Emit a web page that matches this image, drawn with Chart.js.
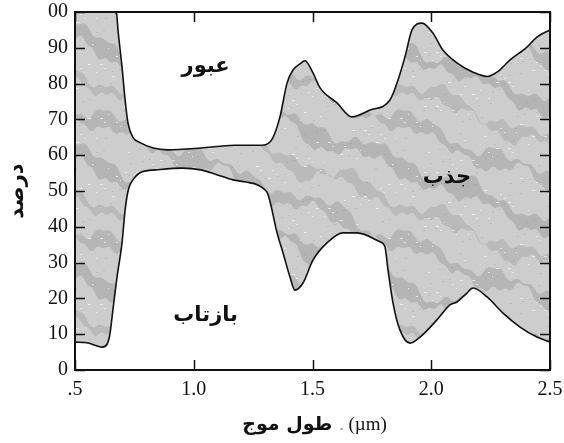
<!DOCTYPE html>
<html>
<head>
<meta charset="utf-8">
<script src="https://cdn.jsdelivr.net/npm/chart.js@4/dist/chart.umd.min.js"></script>
<style>
  html, body { margin: 0; padding: 0; background: #ffffff; }
  #wrap { width: 564px; height: 443px; }
</style>
</head>
<body>
<div id="wrap"><canvas id="chart" width="564" height="443"></canvas></div>
<script>
// Wavelength (µm) and percentage along the reflection curve (lower edge of absorption band)
const reflectWavelength = [0.50, 0.55, 0.59, 0.614, 0.635, 0.647, 0.66, 0.677, 0.698, 0.711, 0.725, 0.744, 0.78, 0.84, 0.95, 1.03, 1.10, 1.165, 1.22, 1.27, 1.30, 1.31, 1.325, 1.335, 1.35, 1.376, 1.405, 1.426, 1.46, 1.502, 1.561, 1.628, 1.687, 1.784, 1.805, 1.818, 1.839, 1.868, 1.911, 1.953, 2.024, 2.079, 2.108, 2.15, 2.176, 2.235, 2.302, 2.374, 2.445, 2.50];
const reflectPercent    = [7.8, 7.6, 6.8, 6.4, 7.2, 10, 17, 26, 35.5, 44.7, 50.5, 53.1, 55.3, 55.9, 56.4, 55.9, 54.5, 53.1, 52.5, 51.7, 50.3, 49.5, 46, 43, 38.5, 32.7, 26, 22.3, 24.3, 30.7, 35.5, 38.3, 38.3, 35.8, 34.4, 27.9, 18.7, 11.2, 7.5, 9.2, 14, 18.2, 19, 21.5, 22.9, 20.4, 15.9, 12, 9.2, 7.8];

// Wavelength (µm) and percentage along the transmission boundary (upper edge of absorption band)
const transWavelength = [0.50, 0.60, 0.66, 0.675, 0.681, 0.698, 0.711, 0.723, 0.744, 0.774, 0.83, 0.89, 1.03, 1.17, 1.29, 1.33, 1.363, 1.393, 1.418, 1.447, 1.468, 1.502, 1.532, 1.603, 1.666, 1.742, 1.826, 1.86, 1.889, 1.919, 1.961, 2.007, 2.049, 2.108, 2.176, 2.235, 2.277, 2.332, 2.403, 2.445, 2.50];
const transPercent    = [100, 100, 100, 99.5, 95, 84.6, 75.4, 69, 65, 63.5, 62, 61.5, 62, 62.8, 62.8, 64.5, 70.7, 80.2, 83.8, 85.5, 86.4, 83, 78.8, 74.6, 70.7, 72.6, 75.4, 81, 87.4, 95, 96.9, 94.1, 89.4, 85.8, 83.2, 82, 83.2, 86.6, 90.2, 93, 95];

// Tick labels
const xTickLabels = ['.5', '1.0', '1.5', '2.0', '2.5'];
const yTickLabels = ['0', '10', '20', '30', '40', '50', '60', '70', '80', '90', '00'];

// Region names and where they sit (µm, %)
const regionNames = ['عبور', 'بازتاب', 'جذب'];
const regionX     = [1.05, 1.05, 2.066];
const regionY     = [84.8, 15.2, 53.8];

const yTitle = 'درصد';
const xTitleWord = 'طول موج';
const xTitleUnit = '(µm)';

const ARABIC_FONT = '"DejaVu Sans", "Noto Sans", sans-serif';
const SERIF_FONT = '"Liberation Serif", "DejaVu Serif", serif';

function toPoints(xs, ys) {
  return xs.map((x, i) => ({ x: x, y: ys[i] }));
}

// Seamless mottled grey tile for the absorption band: broad, patchy diagonal streaks
function makeTexture() {
  const W = 300, H = 120;
  const c = document.createElement('canvas');
  c.width = W; c.height = H;
  const g = c.getContext('2d');
  g.fillStyle = '#cdcdcd';
  g.fillRect(0, 0, W, H);
  const TAU = Math.PI * 2;
  const bands = [
    { y0: 6,  alpha: 0.26, w: 14 },
    { y0: 44, alpha: 0.20, w: 10 },
    { y0: 82, alpha: 0.24, w: 12 }
  ];
  bands.forEach((b, k) => {
    const top = [], bot = [];
    for (let x = 0; x <= W; x += 3) {
      const yc = b.y0 + 0.4 * x
        + 6 * Math.sin(TAU * x / 100 + k * 1.7)
        + 3 * Math.sin(TAU * x / 30 + k * 0.9);
      const t = Math.max(1, b.w
        + 6 * Math.sin(TAU * x / 75 + k * 2.3)
        + 4 * Math.sin(TAU * x / 50 + k * 1.1));
      top.push([x, yc - t / 2 + 2 * Math.sin(TAU * x / 15 + k)]);
      bot.push([x, yc + t / 2 + 2 * Math.sin(TAU * x / 12 + k * 2)]);
    }
    g.fillStyle = 'rgba(110,110,110,' + b.alpha + ')';
    for (const off of [-H, 0, H]) {
      g.beginPath();
      top.forEach((p, i) => (i ? g.lineTo(p[0], p[1] + off) : g.moveTo(p[0], p[1] + off)));
      for (let i = bot.length - 1; i >= 0; i--) g.lineTo(bot[i][0], bot[i][1] + off);
      g.closePath();
      g.fill();
    }
  });
  // light speckles
  g.fillStyle = 'rgba(248,248,248,0.7)';
  for (let i = 0; i < 140; i++) {
    const px = (i * 47 + (i % 4) * 9) % W;
    const py = (i * 31 + (i % 6) * 7) % H;
    g.fillRect(px, py, (i % 3) + 1, 1);
  }
  // faint darker grain
  g.fillStyle = 'rgba(110,110,110,0.18)';
  for (let i = 0; i < 120; i++) {
    const px = (i * 71 + 13) % W;
    const py = (i * 23 + (i % 5) * 11) % H;
    g.fillRect(px, py, 2, 1);
  }
  return g.createPattern(c, 'repeat');
}

// Frame with inward tick marks on all four sides
const framePlugin = {
  id: 'frameTicks',
  afterDatasetsDraw(chart) {
    const { ctx, chartArea: a, scales } = chart;
    const len = 10;
    ctx.save();
    ctx.strokeStyle = '#111';
    ctx.lineWidth = 1.5;
    ctx.beginPath();
    scales.x.ticks.forEach(t => {
      const px = Math.round(scales.x.getPixelForValue(t.value)) + 0.5;
      ctx.moveTo(px, a.bottom); ctx.lineTo(px, a.bottom - len);
      ctx.moveTo(px, a.top); ctx.lineTo(px, a.top + len);
    });
    scales.y.ticks.forEach(t => {
      const py = Math.round(scales.y.getPixelForValue(t.value)) + 0.5;
      ctx.moveTo(a.left, py); ctx.lineTo(a.left + len, py);
      ctx.moveTo(a.right, py); ctx.lineTo(a.right - len, py);
    });
    ctx.stroke();
    ctx.lineWidth = 2;
    ctx.strokeRect(a.left, a.top, a.right - a.left, a.bottom - a.top);
    ctx.restore();
  }
};

// Region names placed in data coordinates
const regionPlugin = {
  id: 'regionNames',
  afterDatasetsDraw(chart) {
    const { ctx, scales } = chart;
    ctx.save();
    ctx.fillStyle = '#111';
    ctx.font = 'bold 21px ' + ARABIC_FONT;
    ctx.textAlign = 'center';
    ctx.textBaseline = 'middle';
    ctx.direction = 'rtl';
    regionNames.forEach((name, i) => {
      ctx.fillText(name, scales.x.getPixelForValue(regionX[i]), scales.y.getPixelForValue(regionY[i]));
    });
    ctx.restore();
  }
};

// X-axis title: Persian word in bold sans plus the unit in serif
const xTitlePlugin = {
  id: 'xTitle',
  afterDraw(chart) {
    const { ctx, chartArea: a } = chart;
    const cx = (a.left + a.right) / 2;
    const y = a.bottom + 55;
    ctx.save();
    ctx.fillStyle = '#111';
    ctx.textBaseline = 'middle';
    ctx.font = 'bold 19px ' + ARABIC_FONT;
    ctx.textAlign = 'right';
    ctx.fillText(xTitleWord, cx + 20, y);
    ctx.fillStyle = '#999';
    ctx.fillRect(cx + 28, y + 3, 2, 2);
    ctx.fillStyle = '#111';
    ctx.font = '19px ' + SERIF_FONT;
    ctx.textAlign = 'left';
    ctx.fillText(xTitleUnit, cx + 36, y);
    ctx.restore();
  }
};

const ctx = document.getElementById('chart').getContext('2d');
new Chart(ctx, {
  type: 'line',
  data: {
    datasets: [
      {
        label: 'reflection',
        data: toPoints(reflectWavelength, reflectPercent),
        borderColor: '#111',
        borderWidth: 1.6,
        pointRadius: 0,
        cubicInterpolationMode: 'monotone',
        fill: false
      },
      {
        label: 'transmission',
        data: toPoints(transWavelength, transPercent),
        borderColor: '#111',
        borderWidth: 1.6,
        pointRadius: 0,
        cubicInterpolationMode: 'monotone',
        backgroundColor: makeTexture(),
        fill: '-1'
      }
    ]
  },
  options: {
    responsive: false,
    animation: false,
    layout: { padding: { top: 12, right: 14, left: 0, bottom: 0 } },
    plugins: { legend: { display: false }, tooltip: { enabled: false } },
    scales: {
      x: {
        type: 'linear',
        min: 0.5,
        max: 2.5,
        afterFit: s => { s.height = 73; s.paddingLeft = 0; s.paddingRight = 0; },
        grid: { display: false, drawTicks: false },
        border: { display: false },
        ticks: {
          stepSize: 0.5,
          padding: 8,
          color: '#111',
          font: { family: SERIF_FONT, size: 20 },
          maxRotation: 0,
          callback: (v, i) => xTickLabels[i]
        }
      },
      y: {
        min: 0,
        max: 100,
        afterFit: s => { s.width = 75; s.paddingTop = 0; s.paddingBottom = 0; },
        grid: { display: false, drawTicks: false },
        border: { display: false },
        ticks: {
          stepSize: 10,
          padding: 7,
          color: '#111',
          font: { family: SERIF_FONT, size: 20 },
          callback: (v, i) => yTickLabels[i]
        },
        title: {
          display: true,
          text: yTitle,
          color: '#111',
          font: { family: ARABIC_FONT, size: 21, weight: 'bold' },
          padding: { top: 5, bottom: 0 }
        }
      }
    }
  },
  plugins: [framePlugin, regionPlugin, xTitlePlugin]
});
</script>
</body>
</html>
